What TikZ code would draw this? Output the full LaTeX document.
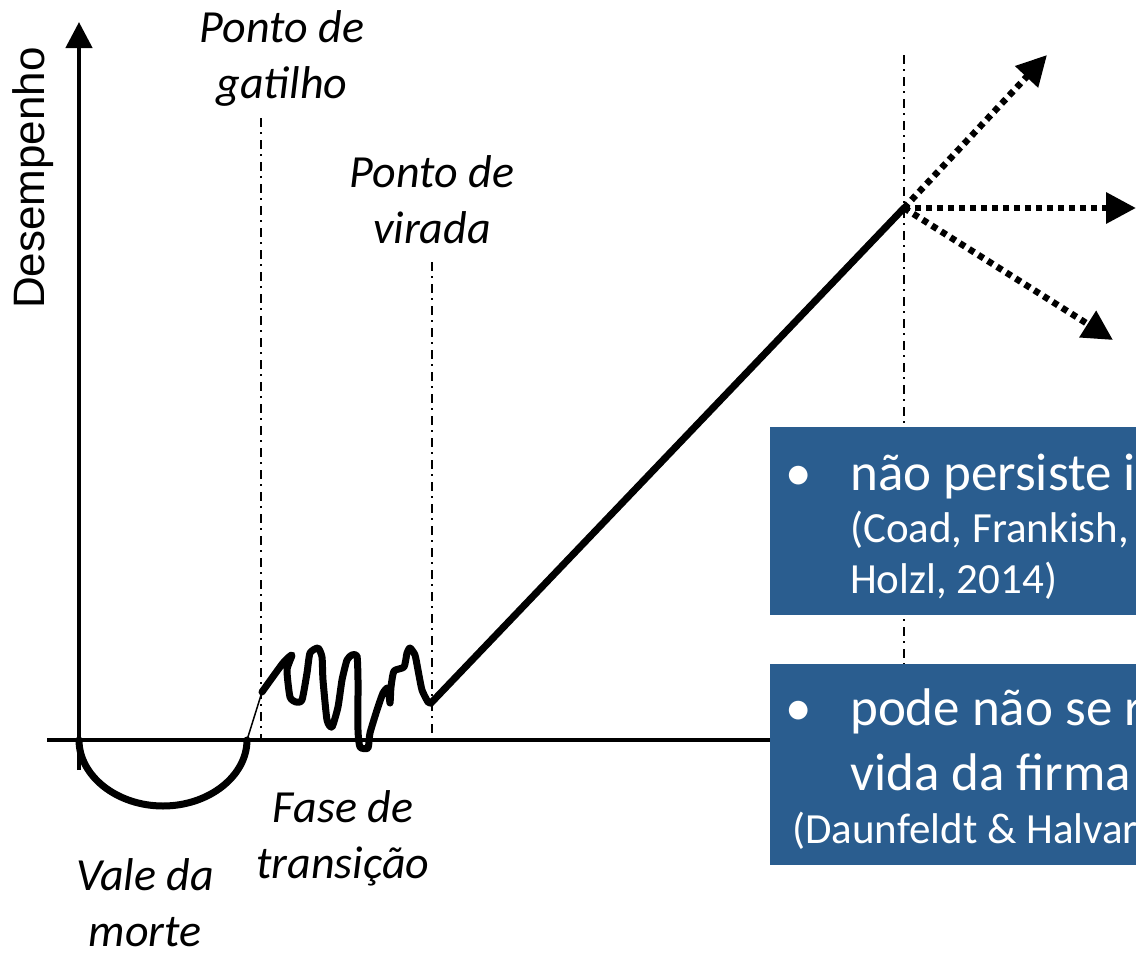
\documentclass[tikz,border=0pt]{standalone}
\usepackage{fontspec}
\setmainfont{Carlito}
\newfontfamily\axisfont{Liberation Sans}
\usepackage{tikz}
\usetikzlibrary{arrows.meta,positioning}
\definecolor{boxblue}{RGB}{42,93,143}

\begin{document}
\begin{tikzpicture}[x=1pt,y=-1pt,
    lbl/.style={font=\fontsize{46}{56}\selectfont\itshape,align=center,inner sep=0pt},
    guide/.style={line width=2pt,dash pattern=on 9pt off 5pt on 2pt off 6pt},
    curve/.style={line width=7pt,line join=round,line cap=round},
    futuro/.style={line width=6.5pt,dash pattern=on 6pt off 5pt,-{Triangle[length=30pt,width=30pt]}},
    infobox/.style={fill=boxblue,anchor=north west,inner sep=0pt},
    big/.style={text=white,font=\fontsize{53}{65}\selectfont,inner sep=0pt,anchor=base west},
    small/.style={text=white,font=\fontsize{43}{51}\selectfont,inner sep=0pt,anchor=base west}]
    \useasboundingbox (0,0) rectangle (1136,953);
    \clip (0,0) rectangle (1136,953);
    % points of the curve
    \coordinate (o) at (79,740);
    \coordinate (topo) at (79,22);
    \coordinate (xini) at (47,740);
    \coordinate (xfim) at (1000,740);
    \coordinate (fundo) at (163,806);
    \coordinate (saida) at (247,740);
    \coordinate (gat) at (262,692);
    \coordinate (vir) at (431,703);
    \coordinate (pico) at (904,208);
    % axes
    \draw[line width=4.5pt,-{Triangle[length=26pt,width=26pt]}] (79,770) -- (topo);
    \draw[line width=4pt] (xini) -- (xfim);
    \node[font=\axisfont\fontsize{44}{50}\selectfont,rotate=90,inner sep=0pt] (desemp) at (33,178) {Desempenho};
    % guides
    \draw[guide] (261,118) -- (261,740);
    \draw[guide] (432,262) -- (432,735);
    \draw[guide] (904,55) -- (904,665);
    % valley and transition
    \draw[curve] (o) .. controls (79,776) and (117,806) .. (fundo)
      .. controls (209,806) and (247,776) .. (saida);
    \draw[line width=1.5pt] (saida) -- (gat);
    \draw[curve] plot[smooth,tension=0.35] coordinates {(gat) (283,663) (292,655) (287,670)
      (290,697) (296,702) (302,700) (307,673) (310,653) (318,648) (322,657) (323,680)
      (327,720) (332,727) (338,707) (342,680) (347,660) (352,655) (357,656) (358,680)
      (358,730) (360,747) (368,748) (370,733) (377,710) (383,693) (388,688) (390,703)
      (391,687) (394,671) (404,667) (407,653) (410,648) (415,655) (418,670) (422,690)
      (428,702) (vir)};
    \draw[curve] (vir) -- (pico);
    % futures
    \coordinate (alto) at (1047,55);
    \coordinate (meio) at (1136,208);
    \coordinate (baixo) at (1113,340);
    \draw[futuro] (pico) -- (alto);
    \draw[futuro] (pico) -- (meio);
    \draw[futuro] (pico) -- (baixo);
    % labels
    \node[lbl] (gatilho) at (282,58) {Ponto de\\gatilho};
    \node[lbl] (virada) at (432,200) {Ponto de\\virada};
    \node[lbl] (transicao) at (343,838) {Fase de\\transição};
    \node[lbl] (vale) at (145,903) {Vale da\\morte};
    % boxes
    \node[infobox,minimum width=430pt,minimum height=188pt] (persiste) at (770,427) {};
    \node[big,anchor=base] (b1) at (799,490) {•};
    \node[big] (t1) at (850,490) {não persiste i};
    \node[small] (c1) at (850,542) {(Coad, Frankish,};
    \node[small] (c2) at (850,593) {Holzl, 2014)};
    \node[infobox,minimum width=430pt,minimum height=201pt] (firma) at (770,664) {};
    \node[big,anchor=base] (b2) at (799,725) {•};
    \node[big] (t2) at (850,725) {pode não se r};
    \node[big] (t3) at (850,790) {vida da firma};
    \node[small] (c3) at (792,843) {(Daunfeldt \& Halvar};
\end{tikzpicture}
\end{document}
